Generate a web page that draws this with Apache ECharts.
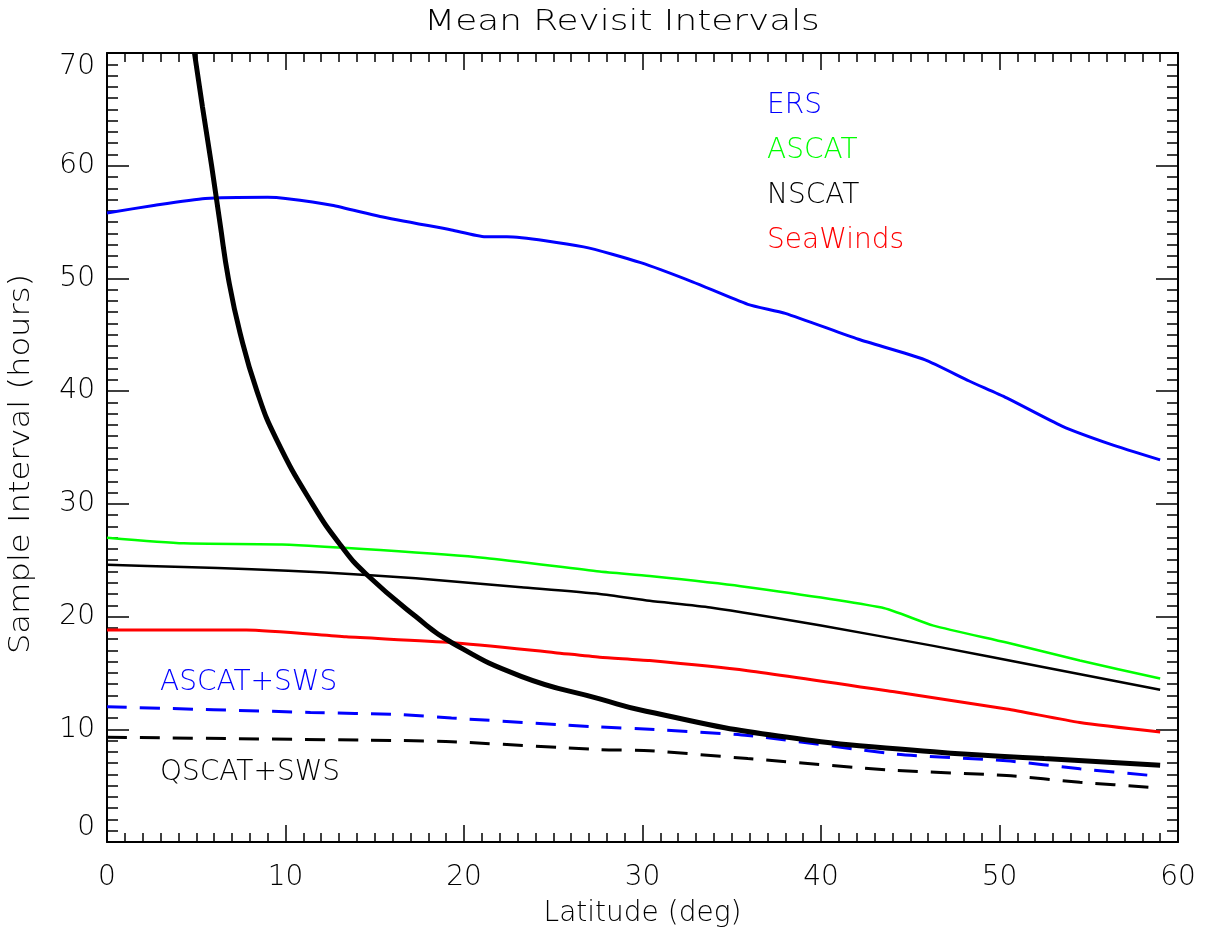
<!DOCTYPE html>
<html>
<head>
<meta charset="utf-8">
<title>Mean Revisit Intervals</title>
<script src="https://cdn.jsdelivr.net/npm/echarts@6/dist/echarts.min.js"></script>
<style>
  html, body { margin: 0; padding: 0; background: #fff; }
  #chart { width: 1205px; height: 933px; }
</style>
</head>
<body>
<div id="chart"></div>
<script>
// latitude (deg), sample interval (hours)
var ers = [[0, 55.8], [2.7, 56.5], [5.5, 57.1], [9, 57.2], [10, 57.1], [12.6, 56.5], [15.3, 55.5],
  [19.3, 54.3], [21.2, 53.7], [22.4, 53.7], [26.7, 52.8], [29.9, 51.4], [32.8, 49.7], [35.9, 47.7],
  [38, 46.9], [42.1, 44.6], [45.8, 42.8], [48.3, 40.9], [50.4, 39.4], [53.5, 36.9], [56.2, 35.3], [59, 33.9]]
var ascat = [[0, 27.0], [4.3, 26.5], [9.8, 26.4], [15.3, 25.9], [21.2, 25.2], [27.6, 24.0], [30.4, 23.6],
  [35.5, 22.7], [43.4, 20.8], [46.3, 19.2], [50.4, 17.7], [54.5, 16.1], [59, 14.5]]
var nscat = [[0, 24.6], [4.3, 24.4], [8.1, 24.2], [12.2, 23.9], [17.3, 23.4], [23.2, 22.6], [27.6, 22.0],
  [30.4, 21.4], [33.8, 20.8], [40, 19.2], [46.3, 17.4], [52.5, 15.5], [59, 13.5]]
var seawinds = [[0, 18.8], [7.8, 18.8], [13.4, 18.2], [19.3, 17.7], [25.1, 16.8], [27.6, 16.4], [30.4, 16.1],
  [35.9, 15.2], [44.2, 13.3], [50.4, 11.8], [54.5, 10.6], [59, 9.75]]
var ascatSws = [[0, 12.0], [11.4, 11.5], [16.4, 11.3], [19.3, 11.0], [27.6, 10.2], [30.4, 10.0], [35.9, 9.45],
  [44.2, 7.8], [50.4, 7.2], [54.5, 6.5], [58.5, 5.9]]
var qscatSws = [[0, 9.3], [16.4, 9.0], [19.3, 8.9], [27.6, 8.2], [30.4, 8.1], [35.9, 7.4], [44.2, 6.35],
  [50.4, 5.9], [54.5, 5.3], [58.5, 4.85]]
var single = [[4.9, 70], [5.35, 65.2], [5.86, 60], [6.33, 54.9], [6.8, 50], [7.45, 45.2], [8.4, 40],
  [9.5, 35.7], [11.5, 30], [13.2, 26.1], [14.5, 23.8], [17.3, 20.0], [19.3, 17.7], [23.2, 14.7],
  [27.6, 12.7], [30.2, 11.6], [37.6, 9.4], [46.3, 8.0], [52.5, 7.4], [59, 6.8]]

var legendNames = ['ERS', 'ASCAT', 'NSCAT', 'SeaWinds']
var legendColors = ['#0000ff', '#00ff00', '#000000', '#ff0000']

var FONT = 'DejaVu Sans'
var chart = echarts.init(document.getElementById('chart'))

function txt(size) {
  return { fontFamily: FONT, fontWeight: 200, fontSize: size, color: '#000' }
}

// box axis: ticks pointing into the plot, minor tick every unit
function axisBase(extra, major, minor) {
  var base = {
    type: 'value',
    axisLine: { show: true, onZero: false, lineStyle: { color: '#000', width: 2 } },
    axisTick: { show: true, inside: true, length: major, lineStyle: { color: '#000', width: 1.5 } },
    minorTick: { show: true, splitNumber: 10, length: minor, lineStyle: { color: '#000', width: 1.5 } },
    splitLine: { show: false },
    minorSplitLine: { show: false }
  }
  return Object.assign(base, extra)
}

function line(name, data, color, width, dash, smooth) {
  return {
    type: 'line', name: name, data: data,
    showSymbol: false, smooth: smooth || 0.2, animation: false,
    lineStyle: { color: color, width: width, type: dash ? [20, 13] : 'solid' },
    itemStyle: { color: color }
  }
}

chart.setOption({
  animation: false,
  grid: { left: 107, right: 27, top: 53, bottom: 90, containLabel: false },
  legend: {
    orient: 'vertical', left: 757, top: 87, icon: 'none', itemWidth: 0, itemHeight: 14,
    itemGap: 17, selectedMode: false,
    textStyle: txt(28),
    data: legendNames.map(function (n, i) {
      return { name: n, textStyle: { color: legendColors[i] } }
    })
  },
  xAxis: [
    axisBase({
      min: 0, max: 60, interval: 10, position: 'bottom',
      name: 'Latitude (deg)', nameLocation: 'middle', nameGap: 58, nameTextStyle: txt(28),
      axisLabel: Object.assign(txt(28), { margin: 22 })
    }, 17, 9),
    axisBase({
      min: 0, max: 60, interval: 10, position: 'top',
      axisLabel: { show: false }
    }, 17, 9)
  ],
  yAxis: [
    axisBase({
      min: 0, max: 70, interval: 10, position: 'left',
      axisLabel: Object.assign(txt(28), { margin: 12, verticalAlignMinLabel: 'bottom', verticalAlignMaxLabel: 'top' })
    }, 22, 11),
    axisBase({
      min: 0, max: 70, interval: 10, position: 'right',
      axisLabel: { show: false }
    }, 22, 11)
  ],
  graphic: [
    { type: 'text', x: 622, y: 23, scaleX: 1.28,
      style: Object.assign(txt(28), { text: 'Mean Revisit Intervals', fill: '#000', align: 'center', verticalAlign: 'middle' }) },
    { type: 'text', x: 22, y: 464, rotation: Math.PI / 2, scaleX: 1.15,
      style: Object.assign(txt(28), { text: 'Sample Interval (hours)', fill: '#000', align: 'center', verticalAlign: 'middle' }) },
    { type: 'text', x: 160, y: 683,
      style: Object.assign(txt(28), { text: 'ASCAT+SWS', fill: '#0000ff', align: 'left', verticalAlign: 'middle' }) },
    { type: 'text', x: 160, y: 773,
      style: Object.assign(txt(28), { text: 'QSCAT+SWS', fill: '#000', align: 'left', verticalAlign: 'middle' }) }
  ],
  series: [
    line('ERS', ers, '#0000ff', 3),
    line('ASCAT', ascat, '#00ff00', 2.5),
    line('NSCAT', nscat, '#000000', 2.5),
    line('SeaWinds', seawinds, '#ff0000', 3),
    line('ASCAT+SWS', ascatSws, '#0000ff', 3, true),
    line('QSCAT+SWS', qscatSws, '#000000', 3, true),
    line('single', single, '#000000', 5, false, 0.5)
  ]
})
</script>
</body>
</html>
